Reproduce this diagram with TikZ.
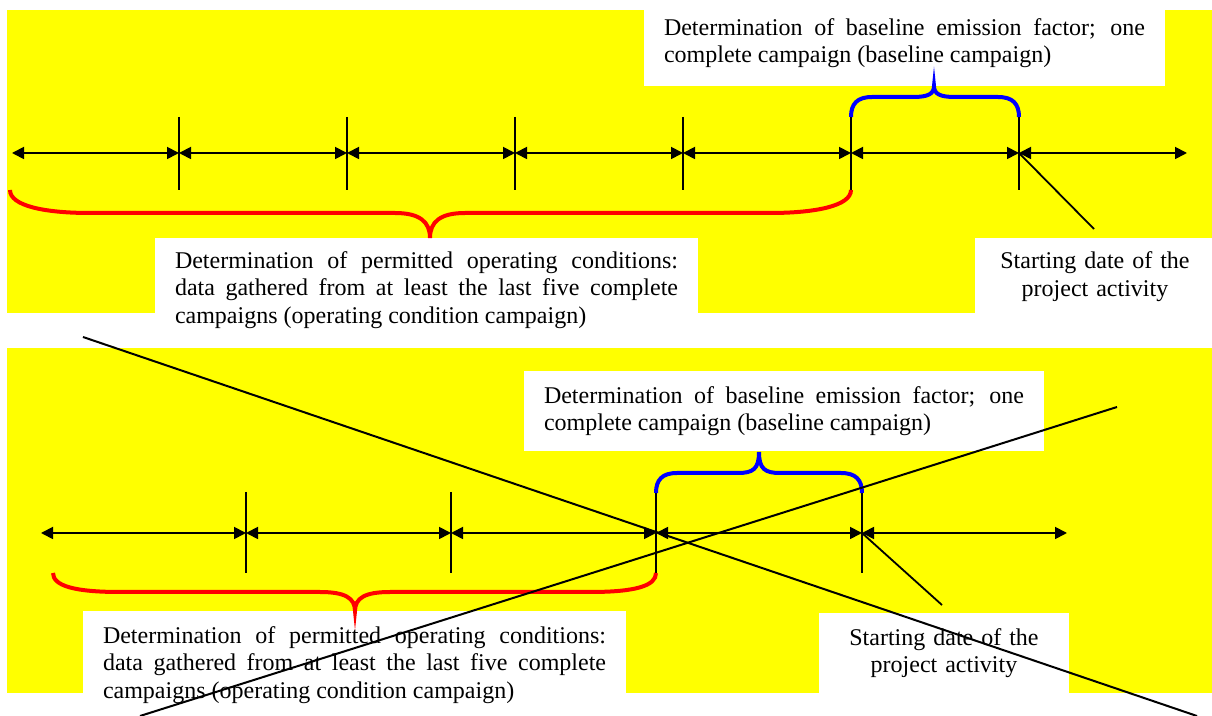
\documentclass[tikz,border=0pt]{standalone}
\usepackage{fontspec}
\setmainfont{Liberation Serif}
\usetikzlibrary{arrows.meta}
\definecolor{panelyellow}{RGB}{255,255,0}
\definecolor{bracered}{RGB}{255,0,0}
\definecolor{braceblue}{RGB}{0,0,255}

\begin{document}
\begin{tikzpicture}[x=0.5pt,y=-0.5pt,
    span/.style={{Triangle[length=6pt,width=6pt]}-{Triangle[length=6pt,width=6pt]},line width=0.9pt},
    tickline/.style={line width=0.9pt},
    redbrace/.style={bracered,line width=2pt},
    bluebrace/.style={braceblue,line width=2pt},
    textbox/.style={fill=white,inner xsep=10pt,inner ysep=0pt,font=\fontsize{12}{13.8}\selectfont},
    cross/.style={line width=1pt}]
      \useasboundingbox (0,0) rectangle (1212,716);
      \clip (0,0) rectangle (1212,716);
      \fill[panelyellow] (7,10) rectangle (1212,313);
      \fill[panelyellow] (7,348) rectangle (1212,693);

      % upper panel
      \node(basetop) [textbox, text width=240.5pt, minimum height=43pt, align=justify] at (904.5,43)
        {Determination of baseline emission factor; one\linebreak complete campaign (baseline campaign)};
      \node(permtop) [textbox, text width=251.5pt, minimum height=52pt, align=justify] at (426.5,290)
        {Determination of permitted operating conditions:\linebreak data gathered from at least the last five complete\linebreak campaigns (operating condition campaign)};
      \node(starttop) [textbox, text width=100pt, minimum width=120.5pt, minimum height=38.5pt, align=center] at (1095,276.5)
        {Starting date of the\\project activity};
      \foreach \i/\x in {0/12,1/179,2/347,3/515,4/683,5/851,6/1019,7/1187}
        \coordinate (a\i) at (\x,153);
      \foreach \i [remember=\i as \l (initially 0)] in {1,...,7}
        \draw[span] (a\l) -- (a\i);
      \foreach \i in {1,...,6}
        \draw[tickline] (a\i) ++(0,-36) -- ++(0,73);
      \draw[redbrace] (10,190) .. controls (10,206) and (45,213) .. (90,213) -- (395,213)
        .. controls (420,213) and (430,222) .. (430,238) .. controls (430,222) and (440,213) .. (465,213)
        -- (770,213) .. controls (815,213) and (851,206) .. (851,190);
      \draw[bluebrace] (851,117) .. controls (851,104) and (857,97) .. (872,97) -- (913,97)
        .. controls (928,97) and (934,94) .. (934,86) .. controls (934,94) and (940,97) .. (955,97)
        -- (998,97) .. controls (1013,97) and (1019,104) .. (1019,117);
      \coordinate (s1) at (1094,229);
      \draw[tickline] (a6) -- (s1);

      % lower panel
      \node(basebot) [textbox, text width=240pt, minimum height=40pt, align=justify] at (784,411)
        {Determination of baseline emission factor; one\linebreak complete campaign (baseline campaign)};
      \node(permbot) [textbox, text width=251.5pt, minimum height=54pt, align=justify] at (354.5,665)
        {Determination of permitted operating conditions:\linebreak data gathered from at least the last five complete\linebreak campaigns (operating condition campaign)};
      \node(startbot) [textbox, text width=100pt, minimum width=125pt, minimum height=40pt, align=center] at (944,653)
        {Starting date of the\\project activity};
      \foreach \i/\x in {0/41,1/246,2/451,3/656,4/862,5/1067}
        \coordinate (b\i) at (\x,533);
      \foreach \i [remember=\i as \l (initially 0)] in {1,...,5}
        \draw[span] (b\l) -- (b\i);
      \foreach \i in {1,...,4}
        \draw[tickline] (b\i) ++(0,-41) -- ++(0,81);
      \draw[redbrace] (53,573) .. controls (53,586) and (75,592) .. (120,592) -- (320,592)
        .. controls (345,592) and (355,598) .. (355,611) .. controls (355,598) and (365,592) .. (390,592)
        -- (590,592) .. controls (635,592) and (656,586) .. (656,573);
      \draw[bluebrace] (656,493) .. controls (656,480) and (662,473) .. (677,473) -- (738,473)
        .. controls (753,473) and (759,469) .. (759,452) .. controls (759,469) and (765,473) .. (780,473)
        -- (841,473) .. controls (856,473) and (862,480) .. (862,493);
      \coordinate (s2) at (942,605);
      \draw[tickline] (b4) -- (s2);

      % crossing lines
      \coordinate (c1) at (83,337);
      \coordinate (c2) at (1197,716);
      \coordinate (c3) at (1117,407);
      \coordinate (c4) at (140,716);
      \draw[cross] (c1) -- (c2);
      \draw[cross] (c3) -- (c4);
\end{tikzpicture}
\end{document}
